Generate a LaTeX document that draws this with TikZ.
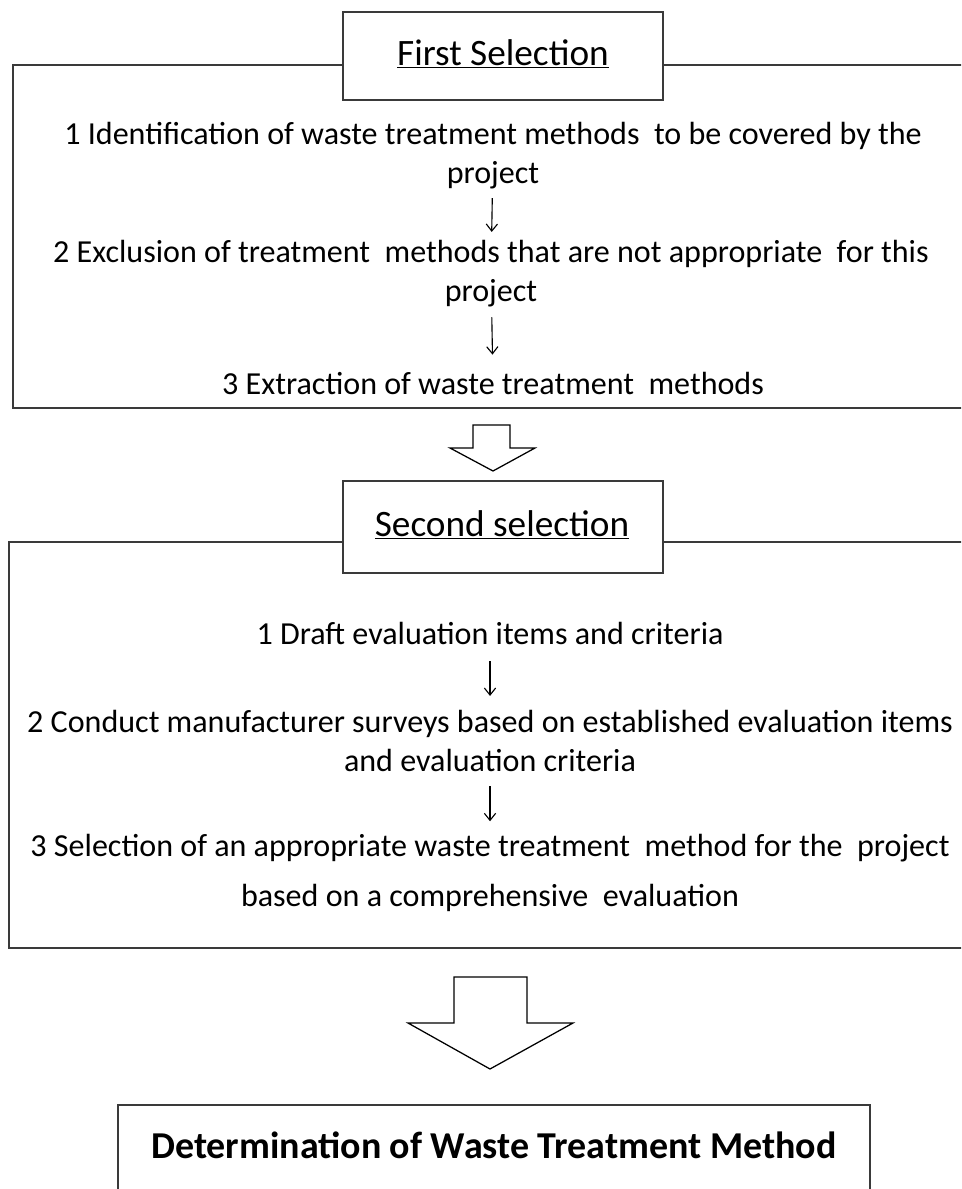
\documentclass[tikz,border=0pt]{standalone}
\usepackage{fontspec}
\setmainfont{Carlito}
\usetikzlibrary{arrows.meta, positioning}
\definecolor{lineDark}{HTML}{3A3A3A}
\tikzset{
  frameBox/.style={draw=lineDark, line width=1.1pt},
  titleBox/.style={draw=lineDark, line width=1.1pt, fill=white},
  titleText/.style={font=\fontsize{26.5}{30}\selectfont, inner sep=0pt},
  stepText/.style={font=\fontsize{22.8}{27.7}\selectfont, align=center, inner sep=0pt},
  arrowS/.style={-{Straight Barb[length=5pt, width=8pt]}, line width=0.8pt, black},
  blockArrow/.style={draw=black, line width=0.9pt, fill=white, line join=miter},
}
\begin{document}
\begin{tikzpicture}[x=0.025cm, y=-0.025cm]
    \clip (0,0) rectangle (961,1189);
    \fill[white] (0,0) rectangle (961,1189);
    % first selection
    \draw[frameBox] (13,65) rectangle (980,408);
    \draw[titleBox] (343,12) rectangle (663,100);
    \node[titleText] (t1) at (503,54) {\underline{First Selection}};
    \node[stepText] (a1) at (493,156) {1 Identification of waste treatment methods \ to be covered by the\\ project};
    \node[stepText] (a2) at (491,274) {2 Exclusion of treatment \ methods that are not appropriate \ for this\\ project};
    \node[stepText] (a3) at (493,383) {3 Extraction of waste treatment \ methods};
    \draw[arrowS, shorten <=6pt, shorten >=6pt] (a1) -- (a2);
    \draw[arrowS, shorten <=7pt, shorten >=12pt] (a2) -- (a3);
    \draw[blockArrow] (473,425) -- (510,425) -- (510,448) -- (535,448)
      -- (493,471) -- (450,448) -- (473,448) -- cycle;
    % second selection
    \draw[frameBox] (9,542) rectangle (980,948);
    \draw[titleBox] (343,481) rectangle (663,573);
    \node[titleText] (t2) at (502,525) {\underline{Second selection}};
    \node[stepText] (b1) at (490,633) {1 Draft evaluation items and criteria};
    \node[stepText] (b2) at (490,741) {2 Conduct manufacturer surveys based on established evaluation items\\ and evaluation criteria};
    \node[stepText] (b3) at (490,873) {3 Selection of an appropriate waste treatment \ method for the \ project\\[8pt] based on a comprehensive \ evaluation};
    \draw[arrowS, shorten <=12pt, shorten >=10pt] (b1) -- (b2);
    \draw[arrowS, shorten <=10pt, shorten >=9pt] (b2) -- (b3);
    \draw[blockArrow] (454,977) -- (527,977) -- (527,1023) -- (573,1023)
      -- (490,1069) -- (408,1023) -- (454,1023) -- cycle;
    % result
    \draw[frameBox] (118,1105) rectangle (870,1220);
    \node[titleText, font=\bfseries\fontsize{27}{31}\selectfont] (res) at (494,1145) {Determination of Waste Treatment Method};
\end{tikzpicture}
\end{document}
